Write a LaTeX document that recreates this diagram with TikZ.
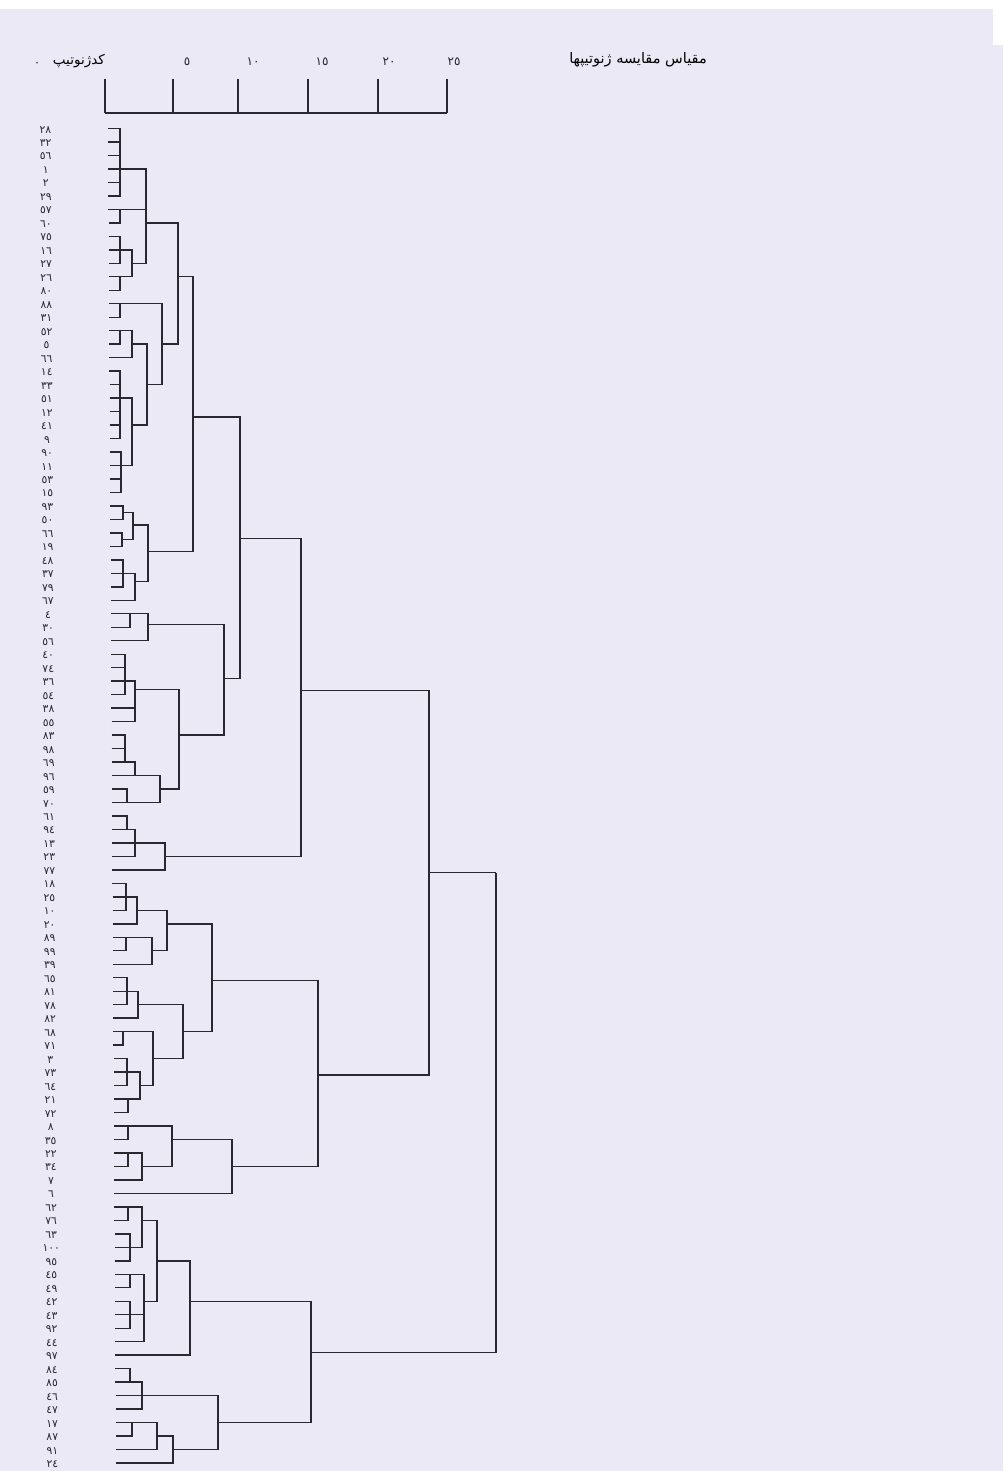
\documentclass[tikz,border=0pt]{standalone}
\usepackage{fontspec}
\newfontfamily\arabicfont[Script=Arabic]{DejaVu Sans}
\TeXXeTstate=1
\definecolor{paper}{RGB}{236,233,246}
\definecolor{ink}{RGB}{40,40,48}
\tikzset{
  dline/.style={draw=ink,line width=1.4pt},
  tick/.style={draw=ink,line width=1.4pt},
  leaflab/.style={font=\arabicfont\fontsize{10.8}{12}\selectfont,text=ink,inner sep=0pt},
  scalelab/.style={font=\arabicfont\fontsize{12}{13}\selectfont,text=ink,inner sep=0pt},
  hdr/.style={font=\arabicfont\fontsize{14.5}{16}\selectfont,text=black,inner sep=0pt}
}
\newcommand{\dmerge}[4]{%
  \coordinate (#1) at (#2,#3);
  \foreach \ch in {#4}{\draw[dline] (\ch) -| (#1);}%
}
\begin{document}
\begin{tikzpicture}[x=1pt,y=-1pt]
\fill[paper] (0,0) rectangle (1003,1471);
\fill[white] (0,0) rectangle (1003,9);
\fill[white] (993,0) rectangle (1003,45);
\useasboundingbox (0,0) rectangle (1003,1471);
% ---- header ----
\node[hdr] (title) at (638,60) {\beginR مقیاس مقایسه ژنوتیپها\endR};
\node[hdr,font=\arabicfont\fontsize{13.5}{15}\selectfont,anchor=east] (code) at (105,61) {\beginR کدژنوتیپ\endR};
\node[scalelab] (s0) at (37,64) {٠};
\node[scalelab] (s5) at (187,62) {٥};
\node[scalelab] (s10) at (253,62) {١٠};
\node[scalelab] (s15) at (322,62) {١٥};
\node[scalelab] (s20) at (389,62) {٢٠};
\node[scalelab] (s25) at (454,62) {٢٥};
\foreach \tx in {105,173,238,308,378,447}{\draw[tick] (\tx,79) -- (\tx,113);}
\draw[tick] (105,113) -- (447,113);
% ---- dendrogram ----
\begin{scope}[yshift=-115.02pt,y=-13.48pt]
\foreach \lab [count=\i] in {٢٨,٣٢,٥٦,١,٢,٢٩,٥٧,٦٠,٧٥,١٦,٢٧,٢٦,٨٠,٨٨,٣١,٥٢,٥,٦٦,١٤,٣٣,٥١,١٢,٤١,٩,٩٠,١١,٥٣,١٥,٩٣,٥٠,٦٦,١٩,٤٨,٣٧,٧٩,٦٧,٤,٣٠,٥٦,٤٠,٧٤,٣٦,٥٤,٣٨,٥٥,٨٣,٩٨,٦٩,٩٦,٥٩,٧٠,٦١,٩٤,١٣,٢٣,٧٧,١٨,٢٥,١٠,٢٠,٨٩,٩٩,٣٩,٦٥,٨١,٧٨,٨٢,٦٨,٧١,٣,٧٣,٦٤,٢١,٧٢,٨,٣٥,٢٢,٣٤,٧,٦,٦٢,٧٦,٦٣,١٠٠,٩٥,٤٥,٤٩,٤٢,٤٣,٩٢,٤٤,٩٧,٨٤,٨٥,٤٦,٤٧,١٧,٨٧,٩١,٢٤}{
  \coordinate (l\i) at ({108+0.08*(\i-1)},\i);
  \node[leaflab] (t\i) at ({45.5+0.07*(\i-1)},\i+0.08) {\lab};
}
% group A
\dmerge{A1}{120}{4}{l1,l2,l3,l4,l5,l6}
\dmerge{A2}{120}{7}{l7,l8}
\dmerge{A3a}{120}{10}{l9,l10,l11}
\dmerge{A3b}{120}{12}{l12,l13}
\dmerge{A3}{132}{11}{A3a,A3b}
\dmerge{A}{146}{8}{A1,A2,A3}
% group B
\dmerge{B1}{120}{14}{l14,l15}
\dmerge{B2a}{120}{16}{l16,l17}
\dmerge{B2}{132}{17}{B2a,l18}
\dmerge{B3a}{120}{21}{l19,l20,l21,l22,l23,l24}
\dmerge{B3b}{121}{26}{l25,l26,l27,l28}
\dmerge{B3}{132}{23}{B3a,B3b}
\dmerge{B23}{147}{20}{B2,B3}
\dmerge{B}{162}{17}{B1,B23}
\dmerge{AB}{178}{12}{A,B}
% group C
\dmerge{C1}{123}{29.5}{l29,l30}
\dmerge{C2}{122}{31.5}{l31,l32}
\dmerge{C12}{133}{30.4}{C1,C2}
\dmerge{C3a}{123}{34}{l33,l34,l35}
\dmerge{C3}{135}{34.6}{C3a,l36}
\dmerge{C}{148}{32.4}{C12,C3}
\dmerge{ABC}{193}{22.4}{AB,C}
% groups D E F
\dmerge{D1}{130}{37}{l37,l38}
\dmerge{D}{148}{37.8}{D1,l39}
\dmerge{E1}{125}{42}{l40,l41,l42,l43}
\dmerge{E}{135}{42.6}{E1,l44,l45}
\dmerge{F1}{125}{48}{l46,l47,l48}
\dmerge{F2}{135}{49}{F1,l49}
\dmerge{F3}{127}{51}{l50,l51}
\dmerge{F}{160}{50}{F2,F3}
\dmerge{EF}{179}{46}{E,F}
\dmerge{DEF}{224}{41.8}{D,EF}
\dmerge{AF}{240}{31.4}{ABC,DEF}
% group G
\dmerge{G1}{127}{53}{l52,l53}
\dmerge{G2}{135}{54}{G1,l54,l55}
\dmerge{G}{165}{55}{G2,l56}
\dmerge{AG}{301}{42.7}{AF,G}
% groups H I J K
\dmerge{H1}{126}{58}{l57,l58,l59}
\dmerge{H2}{137}{59}{H1,l60}
\dmerge{H3}{126}{61}{l61,l62}
\dmerge{H4}{152}{62}{H3,l63}
\dmerge{H}{167}{60}{H2,H4}
\dmerge{I1}{127}{65}{l64,l65,l66}
\dmerge{I}{138}{66}{I1,l67}
\dmerge{J1}{123}{68}{l68,l69}
\dmerge{J2}{127}{71}{l70,l71,l72}
\dmerge{J3}{128}{73}{l73,l74}
\dmerge{J23}{140}{72}{J2,J3}
\dmerge{J}{153}{70}{J1,J23}
\dmerge{IJ}{183}{68}{I,J}
\dmerge{HJ}{212}{64.2}{H,IJ}
\dmerge{K1}{128}{75}{l75,l76}
\dmerge{K2}{128}{77}{l77,l78}
\dmerge{K3}{142}{78}{K2,l79}
\dmerge{K12}{172}{76}{K1,K3}
\dmerge{K}{232}{78}{K12,l80}
\dmerge{HK}{318}{71.2}{HJ,K}
\dmerge{AK}{429}{56.2}{AG,HK}
% groups L M
\dmerge{L1}{128}{81}{l81,l82}
\dmerge{L2}{130}{84}{l83,l84,l85}
\dmerge{L12}{142}{82}{L1,L2}
\dmerge{L3}{130}{86}{l86,l87}
\dmerge{L4}{130}{89}{l88,l89,l90}
\dmerge{L5}{144}{88}{L3,L4,l91}
\dmerge{L125}{157}{85}{L12,L5}
\dmerge{L}{190}{88}{L125,l92}
\dmerge{M1}{130}{94}{l93,l94}
\dmerge{M2}{142}{95}{M1,l95,l96}
\dmerge{M3}{132}{97}{l97,l98}
\dmerge{M4}{157}{98}{M3,l99}
\dmerge{M5}{173}{99}{M4,l100}
\dmerge{M}{218}{97}{M2,M5}
\dmerge{LM}{311}{91.8}{L,M}
\dmerge{root}{496}{56.2}{AK,LM}
\end{scope}
\end{tikzpicture}
\end{document}
